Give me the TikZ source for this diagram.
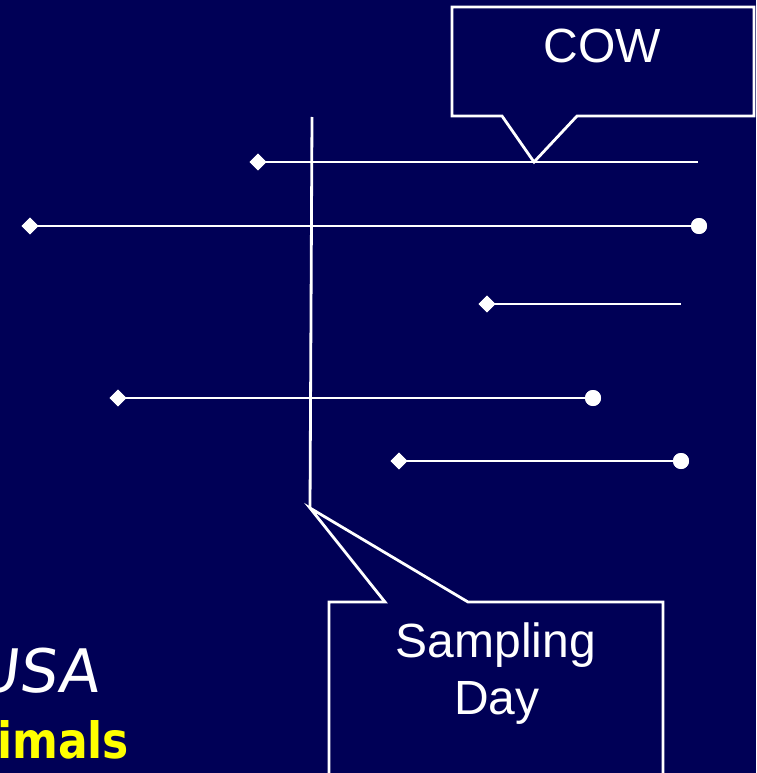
\documentclass[tikz,border=0pt]{standalone}
\usepackage{fontspec}
\setmainfont{Liberation Sans}
\newfontfamily\comicfont{DejaVu Sans}
\usetikzlibrary{shapes.geometric}
\definecolor{navy}{RGB}{0,0,86}
\definecolor{hiyellow}{RGB}{255,255,0}
\tikzset{
  wline/.style={draw=white, line width=2.8pt},
  box/.style={draw=white, line width=2.8pt, line join=miter},
  startmark/.style={diamond, fill=white, minimum size=17pt, inner sep=0pt},
  endmark/.style={circle, fill=white, minimum size=16pt, inner sep=0pt},
  label/.style={text=white, inner sep=0pt, font=\fontsize{48}{57}\selectfont},
}
\begin{document}
\begin{tikzpicture}[x=1pt,y=-1pt]
\fill[navy] (0,0) rectangle (756,773);
\useasboundingbox (0,0) rectangle (756,773);

% COW callout
\coordinate (cowtip) at (534,162);
\draw[box] (502,116) -- (452,116) -- (452,7) -- (754,7) -- (754,116) -- (577,116) -- (cowtip) -- cycle;
\node[label, anchor=base] (cow) at (602,63) {COW};

% Sampling Day callout
\coordinate (samptip) at (310,508);
\draw[box] (385,602) -- (329,602) -- (329,790) -- (663,790) -- (663,602) -- (468,602) -- (samptip) -- cycle;
\node[label, anchor=base] (samp) at (496,657) {Sampling};
\node[label, anchor=base] (day) at (497,714) {Day};

% vertical sampling line
\coordinate (vtop) at (312,117);
\draw[wline] (vtop) -- (samptip);

% horizontal lines
\node[startmark] (s1) at (258,162) {};
\coordinate (e1) at (698,162);
\draw[wline] (s1.center) -- (e1);

\node[startmark] (s2) at (30,226) {};
\node[endmark] (e2) at (699,226) {};
\draw[wline] (s2.center) -- (e2.center);

\node[startmark] (s3) at (487,304) {};
\coordinate (e3) at (681,304);
\draw[wline] (s3.center) -- (e3);

\node[startmark] (s4) at (118,398) {};
\node[endmark] (e4) at (593,398) {};
\draw[wline] (s4.center) -- (e4.center);

\node[startmark] (s5) at (399,461) {};
\node[endmark] (e5) at (681,461) {};
\draw[wline] (s5.center) -- (e5.center);

% redraw marks on top
\foreach \n in {s1,s2,s3,s4,s5}{\node[startmark] at (\n) {};}
\foreach \n in {e2,e4,e5}{\node[endmark] at (\n) {};}

% clipped bottom-left texts
\node[text=white, inner sep=0pt, anchor=base west, xslant=0.12, font=\comicfont\fontsize{60}{62}\selectfont] (usa) at (-26,692) {USA};
\node[text=hiyellow, inner sep=0pt, anchor=base west, xscale=0.88, font=\comicfont\bfseries\fontsize{50}{52}\selectfont] (animals) at (-3,758) {imals};
\end{tikzpicture}
\end{document}
